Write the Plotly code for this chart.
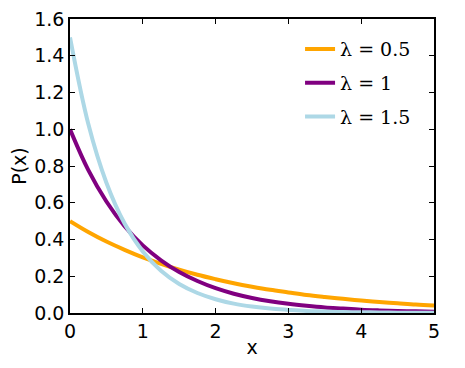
import plotly.graph_objects as go

x_vals = [0, 0.25, 0.5, 0.75, 1, 1.25, 1.5, 1.75, 2, 2.25, 2.5, 2.75, 3, 3.25, 3.5, 3.75, 4, 4.25, 4.5, 4.75, 5]
p_lam05 = [0.5, 0.441, 0.389, 0.344, 0.303, 0.268, 0.236, 0.208, 0.184, 0.162, 0.143, 0.126, 0.112, 0.098, 0.087, 0.077, 0.068, 0.060, 0.053, 0.046, 0.041]
p_lam1 = [1.0, 0.779, 0.607, 0.472, 0.368, 0.287, 0.223, 0.174, 0.135, 0.105, 0.082, 0.064, 0.050, 0.039, 0.030, 0.024, 0.018, 0.014, 0.011, 0.009, 0.007]
p_lam15 = [1.5, 1.031, 0.709, 0.487, 0.335, 0.230, 0.158, 0.109, 0.075, 0.051, 0.035, 0.024, 0.017, 0.011, 0.008, 0.005, 0.004, 0.003, 0.002, 0.001, 0.001]
series_names = ["λ = 0.5", "λ = 1", "λ = 1.5"]
colors = ["#FFA500", "#800080", "#ADD8E6"]
y_ticks = [0, 0.2, 0.4, 0.6, 0.8, 1.0, 1.2, 1.4, 1.6]
x_ticks = [0, 1, 2, 3, 4, 5]

fig = go.Figure()
for i, (name, ys, c) in enumerate(zip(series_names, [p_lam05, p_lam1, p_lam15], colors)):
    fig.add_trace(go.Scatter(x=x_vals, y=ys, mode="lines", name=name, legendgroup=f"g{i}",
                             line=dict(color=c, width=4, shape="spline", smoothing=1.0)))

axis_common = dict(showgrid=False, zeroline=False, showline=True, linecolor="black", linewidth=1.5,
                   mirror="ticks", ticks="inside", ticklen=5, tickcolor="black", automargin=False,
                   ticklabeloverflow="allow",
                   tickfont=dict(size=19, color="black", family="DejaVu Sans"))
fig.update_xaxes(range=[0, 5], tickvals=x_ticks,
                 title=dict(text="x", font=dict(size=19, color="black"), standoff=0), **axis_common)
fig.update_yaxes(range=[0, 1.6005], tickvals=y_ticks, tickformat=".1f",
                 title=dict(text="P(x)", font=dict(size=19, color="black"), standoff=6), **axis_common)

fig.update_layout(width=457, height=360, margin=dict(l=62, r=31, t=11, b=55),
                  paper_bgcolor="white", plot_bgcolor="white",
                  font=dict(family="DejaVu Sans", color="black"),
                  legend=dict(x=0.632, y=0.962, xanchor="left", yanchor="top", bgcolor="rgba(0,0,0,0)",
                              font=dict(family="DejaVu Serif", size=19, color="black"),
                              tracegroupgap=6))
fig.write_html("out.html")
